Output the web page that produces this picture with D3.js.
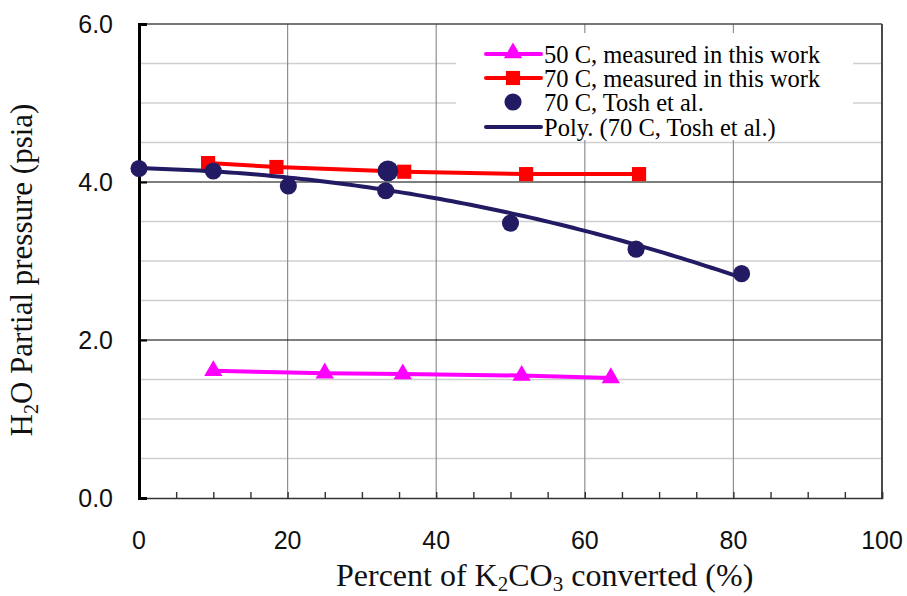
<!DOCTYPE html>
<html>
<head>
<meta charset="utf-8">
<script src="https://cdn.jsdelivr.net/npm/d3@7"></script>
<style>
  html, body { margin: 0; padding: 0; background: #fff; }
  svg { display: block; }
</style>
</head>
<body>
<svg id="chart" width="907" height="596"></svg>
<script>
// Axis ticks
const xTickValues = [0, 20, 40, 60, 80, 100];
const yTickValues = [0, 2, 4, 6];
const yTickLabels = ["0.0", "2.0", "4.0", "6.0"];

// 50 C, measured in this work
const m50X = [10.0, 25.0, 35.5, 51.5, 63.5];
const m50Y = [1.61, 1.58, 1.57, 1.55, 1.52];

// 70 C, measured in this work
const m70X = [9.3, 18.5, 35.7, 52.1, 67.3];
const m70Y = [4.24, 4.19, 4.13, 4.10, 4.10];

// 70 C, Tosh et al.
const toshX = [0, 10.0, 20.1, 33.2, 50.0, 66.9, 81.1];
const toshY = [4.17, 4.14, 3.95, 3.89, 3.48, 3.15, 2.84];

// 70 C, Tosh et al. — overlapping point drawn with a larger marker
const toshExtraX = [33.5];
const toshExtraY = [4.14];

const legendLabels = [
  "50 C, measured in this work",
  "70 C, measured in this work",
  "70 C, Tosh et al.",
  "Poly. (70 C, Tosh et al.)"
];

const colors = { m50: "#ff00ff", m70: "#ff0000", tosh: "#221b63" };

const svg = d3.select("#chart");
const plotL = 139, plotR = 882, plotT = 24, plotB = 498;

const x = d3.scaleLinear().domain([0, 100]).range([plotL, plotR]);
const y = d3.scaleLinear().domain([0, 6]).range([plotB, plotT]);

// Minor horizontal gridlines every 0.5
const minorY = d3.range(0.5, 6, 0.5).filter(v => v % 2 !== 0);
svg.append("g").selectAll("line").data(minorY).join("line")
  .attr("x1", plotL).attr("x2", plotR)
  .attr("y1", d => y(d)).attr("y2", d => y(d))
  .attr("stroke", "#cfcfcf").attr("stroke-width", 1.5);

// Vertical gridlines
svg.append("g").selectAll("line").data(xTickValues.filter(v => v > 0 && v < 100)).join("line")
  .attr("x1", d => x(d)).attr("x2", d => x(d))
  .attr("y1", plotT).attr("y2", plotB)
  .attr("stroke", "#8f8f8f").attr("stroke-width", 1.2);

// Major horizontal gridlines
svg.append("g").selectAll("line").data([2, 4]).join("line")
  .attr("x1", plotL).attr("x2", plotR)
  .attr("y1", d => y(d)).attr("y2", d => y(d))
  .attr("stroke", "#000").attr("stroke-width", 1.2);

// Legend background
svg.append("rect").attr("x", 456).attr("y", 33).attr("width", 397).attr("height", 107)
  .attr("fill", "#fff");

// Plot frame: top and right
svg.append("line").attr("x1", plotL).attr("x2", plotR).attr("y1", plotT).attr("y2", plotT)
  .attr("stroke", "#4a4a4a").attr("stroke-width", 1.6);
svg.append("line").attr("x1", plotR).attr("x2", plotR).attr("y1", plotT).attr("y2", plotB)
  .attr("stroke", "#4a4a4a").attr("stroke-width", 2);

// X axis with minor ticks every 5
const xAxis = d3.axisBottom(x).tickValues(d3.range(0, 101, 5)).tickSize(-6).tickFormat("");
const gx = svg.append("g").attr("transform", `translate(0,${plotB})`).call(xAxis);
gx.select(".domain").attr("stroke", "#333").attr("stroke-width", 1.6);
gx.selectAll(".tick line").attr("stroke", "#333").attr("stroke-width", 1.4);

// X tick labels
svg.append("g").selectAll("text").data(xTickValues).join("text")
  .attr("x", d => x(d)).attr("y", 549)
  .attr("text-anchor", "middle")
  .attr("font-family", "'Liberation Sans', Arial, sans-serif")
  .attr("font-size", 25).attr("fill", "#111")
  .text(d => d);

// Y axis
const yAxis = d3.axisLeft(y).tickValues(yTickValues).tickSize(-8).tickFormat("");
const gy = svg.append("g").attr("transform", `translate(${plotL},0)`).call(yAxis);
gy.select(".domain").attr("stroke", "#000").attr("stroke-width", 3);
gy.selectAll(".tick line").attr("stroke", "#000").attr("stroke-width", 2);

svg.append("g").selectAll("text").data(yTickValues).join("text")
  .attr("x", 113).attr("y", d => y(d) + 9)
  .attr("text-anchor", "end")
  .attr("font-family", "'Liberation Sans', Arial, sans-serif")
  .attr("font-size", 25).attr("fill", "#111")
  .text((d, i) => yTickLabels[i]);

// Quadratic least-squares trendline through all Tosh et al. points
function polyFit2(xs, ys) {
  const s = [0, 0, 0, 0, 0], t = [0, 0, 0];
  xs.forEach((xv, i) => {
    for (let k = 0; k < 5; k++) s[k] += Math.pow(xv, k);
    for (let k = 0; k < 3; k++) t[k] += ys[i] * Math.pow(xv, k);
  });
  const A = [[s[0], s[1], s[2], t[0]], [s[1], s[2], s[3], t[1]], [s[2], s[3], s[4], t[2]]];
  for (let i = 0; i < 3; i++) {
    for (let j = i + 1; j < 3; j++) {
      const f = A[j][i] / A[i][i];
      for (let k = i; k < 4; k++) A[j][k] -= f * A[i][k];
    }
  }
  const c = [0, 0, 0];
  for (let i = 2; i >= 0; i--) {
    let v = A[i][3];
    for (let k = i + 1; k < 3; k++) v -= A[i][k] * c[k];
    c[i] = v / A[i][i];
  }
  return c;
}
const fitX = toshX.concat(toshExtraX);
const fitY = toshY.concat(toshExtraY);
const coef = polyFit2(fitX, fitY);
const trendPts = d3.range(0, 101).map(i => {
  const xv = d3.min(fitX) + (d3.max(fitX) - d3.min(fitX)) * i / 100;
  return [xv, coef[0] + coef[1] * xv + coef[2] * xv * xv];
});

const line = d3.line().x(d => x(d[0])).y(d => y(d[1]));

// Series lines
svg.append("path").datum(m50X.map((v, i) => [v, m50Y[i]]))
  .attr("d", line).attr("fill", "none").attr("stroke", colors.m50).attr("stroke-width", 4);
svg.append("path").datum(m70X.map((v, i) => [v, m70Y[i]]))
  .attr("d", line).attr("fill", "none").attr("stroke", colors.m70).attr("stroke-width", 4);

// Markers
const tri = d3.symbol(d3.symbolTriangle).size(145);
const sq = d3.symbol(d3.symbolSquare).size(200);
const dot = d3.symbol(d3.symbolCircle).size(230);
const bigDot = d3.symbol(d3.symbolCircle).size(340);

svg.append("g").selectAll("path").data(m50X.map((v, i) => [v, m50Y[i]])).join("path")
  .attr("d", tri).attr("transform", d => `translate(${x(d[0])},${y(d[1])})`)
  .attr("fill", colors.m50);
svg.append("g").selectAll("path").data(m70X.map((v, i) => [v, m70Y[i]])).join("path")
  .attr("d", sq).attr("transform", d => `translate(${x(d[0])},${y(d[1])})`)
  .attr("fill", colors.m70);
svg.append("g").selectAll("path").data(toshX.map((v, i) => [v, toshY[i]])).join("path")
  .attr("d", dot).attr("transform", d => `translate(${x(d[0])},${y(d[1])})`)
  .attr("fill", colors.tosh);
svg.append("g").selectAll("path").data(toshExtraX.map((v, i) => [v, toshExtraY[i]])).join("path")
  .attr("d", bigDot).attr("transform", d => `translate(${x(d[0])},${y(d[1])})`)
  .attr("fill", colors.tosh);

// Trendline on top of the dots
svg.append("path").datum(trendPts)
  .attr("d", line).attr("fill", "none").attr("stroke", colors.tosh).attr("stroke-width", 4);

// Legend
const lg = svg.append("g").attr("font-family", "'Liberation Serif', 'Times New Roman', serif")
  .attr("font-size", 24.5).attr("fill", "#000");
const rowY = [54, 78, 102, 127];
const lx1 = 486, lx2 = 541, lmid = 513;
legendLabels.forEach((lab, i) => {
  const ry = rowY[i];
  if (i === 0 || i === 1 || i === 3) {
    lg.append("line").attr("x1", lx1).attr("x2", lx2).attr("y1", ry).attr("y2", ry)
      .attr("stroke", i === 0 ? colors.m50 : i === 1 ? colors.m70 : colors.tosh)
      .attr("stroke-width", 4).attr("stroke-linecap", "round");
  }
  if (i === 0) lg.append("path").attr("d", tri).attr("transform", `translate(${lmid},${ry - 1})`).attr("fill", colors.m50);
  if (i === 1) lg.append("path").attr("d", sq).attr("transform", `translate(${lmid},${ry})`).attr("fill", colors.m70);
  if (i === 2) lg.append("path").attr("d", dot).attr("transform", `translate(${lmid},${ry})`).attr("fill", colors.tosh);
  lg.append("text").attr("x", 544).attr("y", ry + 9).text(lab);
});

// Axis titles
const xt = svg.append("text").attr("x", 336).attr("y", 586)
  .attr("font-family", "'Liberation Serif', 'Times New Roman', serif")
  .attr("font-size", 32).attr("fill", "#111");
xt.append("tspan").text("Percent of K");
xt.append("tspan").attr("font-size", 21).attr("dy", 5).text("2");
xt.append("tspan").attr("dy", -5).text("CO");
xt.append("tspan").attr("font-size", 21).attr("dy", 5).text("3");
xt.append("tspan").attr("dy", -5).text(" converted (%)");

const yt = svg.append("text")
  .attr("transform", "translate(32,270) rotate(-90)")
  .attr("text-anchor", "middle")
  .attr("font-family", "'Liberation Serif', 'Times New Roman', serif")
  .attr("font-size", 31).attr("fill", "#111");
yt.append("tspan").text("H");
yt.append("tspan").attr("font-size", 20).attr("dy", 6).text("2");
yt.append("tspan").attr("dy", -6).text("O Partial pressure (psia)");
</script>
</body>
</html>
